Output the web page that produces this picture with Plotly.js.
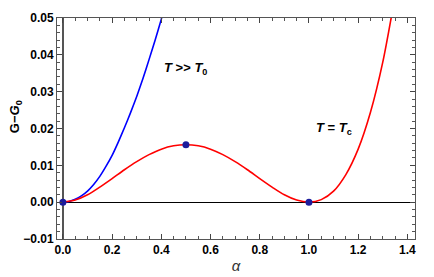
<!DOCTYPE html>
<html>
<head>
<meta charset="utf-8">
<script src="https://cdn.plot.ly/plotly-3.0.1.min.js"></script>
<style>html,body{margin:0;padding:0;background:#fff;}#chart{width:434px;height:277px;}</style>
</head>
<body>
<div id="chart"></div>
<script>
// T >> T0 curve
var alphaHot = [0, 0.025, 0.05, 0.075, 0.10, 0.125, 0.15, 0.175, 0.20, 0.225, 0.25, 0.275, 0.30, 0.325, 0.35, 0.375, 0.40, 0.425];
var gHot     = [0, 0.0002, 0.0008, 0.0017, 0.0030, 0.0048, 0.0070, 0.0097, 0.0127, 0.0163, 0.0202, 0.0243, 0.0287, 0.0335, 0.0387, 0.0440, 0.0497, 0.0560];
// T = Tc curve
var alphaTc = [0, 0.05, 0.10, 0.15, 0.20, 0.25, 0.30, 0.35, 0.40, 0.45, 0.50, 0.55, 0.60, 0.65, 0.70, 0.75, 0.80, 0.85, 0.90, 0.95, 1.00, 1.05, 1.10, 1.15, 1.20, 1.25, 1.30, 1.35];
var gTc     = [0, 0.00056, 0.0020, 0.0041, 0.0064, 0.0088, 0.0110, 0.0129, 0.0144, 0.0153, 0.0156, 0.0153, 0.0144, 0.0129, 0.0110, 0.0088, 0.0064, 0.0041, 0.0020, 0.00056, 0, 0.00069, 0.0030, 0.0075, 0.0144, 0.0244, 0.0380, 0.0560];
// marked points
var ptAlpha = [0, 0.5, 1.0];
var ptG     = [0, 0.0156, 0];

var traces = [
  {x: alphaHot, y: gHot, mode: 'lines', line: {color: '#0000ff', width: 1.6, shape: 'spline', smoothing: 0.6}, hoverinfo: 'skip'},
  {x: alphaTc, y: gTc, mode: 'lines', line: {color: '#ff0000', width: 1.6, shape: 'spline', smoothing: 0.8}, hoverinfo: 'skip'},
  {x: ptAlpha, y: ptG, mode: 'markers', marker: {color: '#1c1c9c', size: 7}, cliponaxis: false, hoverinfo: 'skip'}
];

var tickFont = {family: 'Liberation Sans, Arial, sans-serif', size: 12, color: '#000', weight: 700};
var layout = {
  width: 434, height: 277,
  margin: {l: 57, r: 19, t: 18, b: 38},
  paper_bgcolor: '#fff', plot_bgcolor: '#fff',
  showlegend: false,
  xaxis: {
    range: [-0.024, 1.431], showgrid: false,
    showline: true, linecolor: '#555', linewidth: 1, mirror: 'allticks',
    ticks: 'inside', ticklen: 5, tickcolor: '#444', tickwidth: 1,
    tickmode: 'linear', dtick: 0.2, tick0: 0, tickformat: '.1f',
    minor: {dtick: 0.05, ticks: 'inside', ticklen: 3, tickwidth: 1, tickcolor: '#555', showgrid: false},
    tickfont: tickFont,
    zeroline: true, zerolinecolor: '#555', zerolinewidth: 1.5,
    title: {text: '<i>α</i>', font: {family: 'Liberation Sans, Arial, sans-serif', size: 15, color: '#333'}, standoff: 4}
  },
  yaxis: {
    range: [-0.01, 0.05], showgrid: false,
    showline: true, linecolor: '#555', linewidth: 1, mirror: 'allticks',
    ticks: 'inside', ticklen: 5, tickcolor: '#444', tickwidth: 1,
    tickmode: 'linear', dtick: 0.01, tick0: 0, tickformat: '.2f',
    minor: {dtick: 0.002, ticks: 'inside', ticklen: 3, tickwidth: 1, tickcolor: '#555', showgrid: false},
    tickfont: tickFont,
    zeroline: true, zerolinecolor: '#000', zerolinewidth: 1
  },
  annotations: [
    {xref: 'paper', yref: 'paper', x: -0.115, y: 0.555, xanchor: 'center', yanchor: 'middle', textangle: -90, showarrow: false,
     text: '<b>G−<i>G</i><sub>0</sub></b>', font: {family: 'Liberation Sans, Arial, sans-serif', size: 13, color: '#000'}},
    {xref: 'x', yref: 'y', x: 0.50, y: 0.0364, xanchor: 'center', yanchor: 'middle', showarrow: false,
     text: '<b><i>T</i> &gt;&gt; <i>T</i><sub>0</sub></b>', font: {family: 'Liberation Sans, Arial, sans-serif', size: 13, color: '#000'}},
    {xref: 'x', yref: 'y', x: 1.103, y: 0.0200, xanchor: 'center', yanchor: 'middle', showarrow: false,
     text: '<b><i>T</i> = <i>T</i><sub>c</sub></b>', font: {family: 'Liberation Sans, Arial, sans-serif', size: 13, color: '#000'}}
  ]
};
Plotly.newPlot('chart', traces, layout, {displayModeBar: false, staticPlot: true});
</script>
</body>
</html>
